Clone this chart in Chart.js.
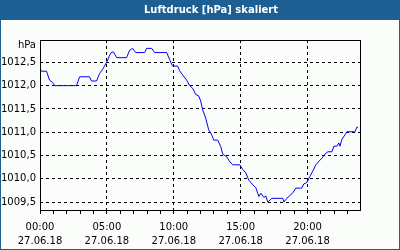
<!DOCTYPE html>
<html>
<head>
<meta charset="utf-8">
<script src="https://cdn.jsdelivr.net/npm/chart.js@4/dist/chart.umd.min.js"></script>
<style>
html,body{margin:0;padding:0;background:#fbfdfb;}
#wrap{width:400px;height:250px;position:relative;}
</style>
</head>
<body>
<div id="wrap"><canvas id="c" width="400" height="250"></canvas></div>
<script>
const chartTitle = 'Luftdruck [hPa] skaliert';
const unitLabel = 'hPa';
const dateLabel = '27.06.18';
// time of day in hours
const hours = [0.00,0.11,0.49,0.71,0.94,1.09,2.73,2.96,3.70,3.85,4.23,4.45,4.68,4.98,5.20,5.35,5.50,5.73,6.47,6.70,6.92,7.15,7.82,7.97,8.35,8.57,9.47,9.69,9.84,9.92,10.29,10.44,10.66,10.96,11.19,11.42,11.64,11.86,12.01,12.16,12.39,12.61,12.84,12.99,13.29,13.51,13.66,13.96,14.18,14.41,14.93,15.16,15.38,15.61,15.91,16.13,16.36,16.51,16.73,16.88,17.03,17.33,18.15,18.23,18.45,18.68,18.90,19.12,19.57,19.72,19.95,20.17,20.40,20.62,20.92,21.07,21.30,21.52,21.82,21.97,22.19,22.34,22.42,22.57,22.79,22.94,23.54,23.69,23.77];
const pressure = [1012.37,1012.31,1012.31,1012.12,1012.07,1012.00,1012.00,1012.19,1012.19,1012.10,1012.10,1012.26,1012.35,1012.50,1012.65,1012.72,1012.72,1012.60,1012.60,1012.76,1012.80,1012.71,1012.71,1012.80,1012.80,1012.71,1012.71,1012.56,1012.46,1012.42,1012.42,1012.32,1012.23,1012.12,1012.00,1011.94,1011.81,1011.78,1011.67,1011.48,1011.30,1011.05,1010.94,1010.83,1010.83,1010.69,1010.53,1010.47,1010.37,1010.30,1010.30,1010.20,1010.13,1009.97,1009.87,1009.81,1009.62,1009.69,1009.60,1009.63,1009.50,1009.58,1009.58,1009.50,1009.58,1009.64,1009.70,1009.80,1009.80,1009.89,1009.92,1010.05,1010.17,1010.30,1010.40,1010.44,1010.53,1010.58,1010.58,1010.70,1010.70,1010.77,1010.70,1010.85,1010.94,1011.01,1011.01,1011.11,1011.10];
const yTicks = [1009.5,1010.0,1010.5,1011.0,1011.5,1012.0,1012.5];
const xTicks = [0,1,2,3,4,5,6,7,8,9,10,11,12,13,14,15,16,17,18,19,20,21,22,23];
const yMin = 1009.33, yMax = 1012.98;
const xMin = 0, xMax = 23.92;

const frame = {
  id:'frame',
  beforeDraw(chart){
    const c = chart.ctx;
    c.save();
    c.fillStyle = '#1d5f93';
    c.fillRect(0,0,400,250);
    c.fillStyle = '#fbfdfb';
    c.fillRect(1,20,398,229);
    c.fillStyle = '#ffffff';
    c.font = 'bold 10px "DejaVu Sans"';
    c.textAlign = 'center';
    c.textBaseline = 'middle';
    c.fillText(chartTitle, 211, 10.5);
    c.restore();
  },
  afterDraw(chart){
    const c = chart.ctx, a = chart.chartArea;
    c.save();
    c.strokeStyle = '#000';
    c.lineWidth = 1;
    c.strokeRect(Math.round(a.left)+0.5, Math.round(a.top)+0.5, Math.round(a.right-a.left), Math.round(a.bottom-a.top));
    c.fillStyle = '#000';
    c.font = '10px "DejaVu Sans"';
    c.textAlign = 'right';
    c.textBaseline = 'middle';
    c.fillText(unitLabel, 36, 45.5);
    c.restore();
  }
};

new Chart(document.getElementById('c'), {
  type:'line',
  data:{
    datasets:[{
      data: hours.map((h,i)=>({x:h,y:pressure[i]})),
      borderColor:'#0000ff',
      borderWidth:1,
      pointRadius:0,
      tension:0,
      fill:false
    }]
  },
  options:{
    responsive:false,
    animation:false,
    events:[],
    layout:{padding:{top:40,right:40,left:0,bottom:0}},
    plugins:{legend:{display:false},tooltip:{enabled:false},title:{display:false}},
    scales:{
      x:{
        type:'linear', min:xMin, max:xMax,
        afterBuildTicks(s){ s.ticks = xTicks.map(v=>({value:v})); },
        afterFit(s){ s.height = 40; },
        border:{display:false, dash:[3,3]},
        grid:{
          color:(ctx)=> (ctx.tick && ctx.tick.value%5===0 && ctx.tick.value!==0) ? '#000' : 'rgba(0,0,0,0)',
          tickColor:'#000', tickLength:4, tickBorderDash:[], lineWidth:1
        },
        ticks:{
          autoSkip:false, maxRotation:0, minRotation:0, padding:6,
          color:'#000', font:{family:'DejaVu Sans', size:10, lineHeight:1.4},
          callback:(v)=> v%5===0 ? [String(v).padStart(2,'0')+':00', dateLabel] : ''
        }
      },
      y:{
        type:'linear', min:yMin, max:yMax,
        afterBuildTicks(s){ s.ticks = yTicks.map(v=>({value:v})); },
        afterFit(s){ s.width = 40; },
        border:{display:false, dash:[3,3]},
        grid:{color:'#000', drawTicks:false, lineWidth:1},
        ticks:{
          padding:4, color:'#000', font:{family:'DejaVu Sans', size:10},
          callback:(v)=> v.toFixed(1).replace('.',',')
        }
      }
    }
  },
  plugins:[frame]
});
</script>
</body>
</html>
